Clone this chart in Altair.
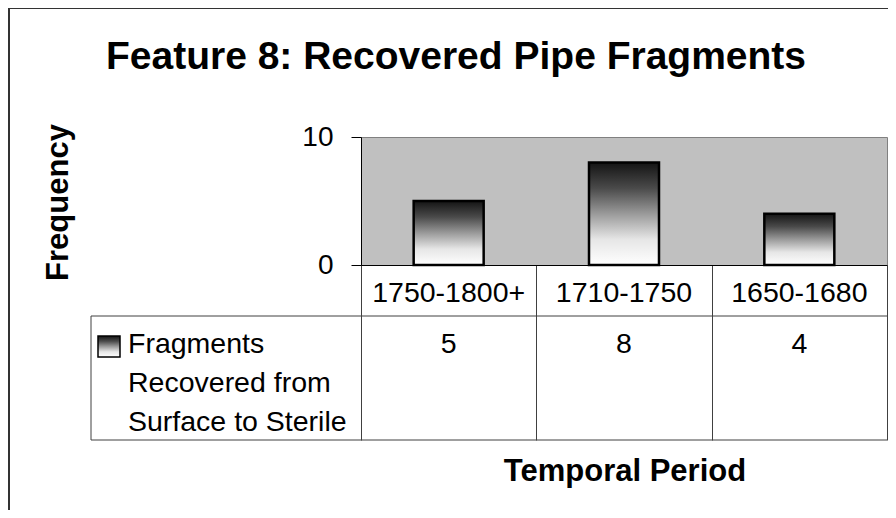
import altair as alt
import pandas as pd

# ---- data ----
periods = ["1750-1800+", "1710-1750", "1650-1680"]
counts = [5, 8, 4]
series_label = "Fragments\nRecovered from\nSurface to Sterile"
chart_title = "Feature 8: Recovered Pipe Fragments"
y_title = "Frequency"
x_title = "Temporal Period"
y_ticks = [0, 10]

df = pd.DataFrame({"period": periods, "count": counts})

FONT = "Liberation Sans"
# plot area in page coordinates
OX, OY = 361, 137
W, H = 526, 128
SVG_W, SVG_H = 880, 502


def px(x):
    return x - OX


def py(y):
    return y - OY


grad = {
    "gradient": "linear",
    "x1": 0, "y1": 0, "x2": 0, "y2": 1,
    "stops": [
        {"offset": 0.0, "color": "#141414"},
        {"offset": 0.25, "color": "#4a4a4a"},
        {"offset": 0.5, "color": "#9a9a9a"},
        {"offset": 0.75, "color": "#e6e6e6"},
        {"offset": 1.0, "color": "#ffffff"},
    ],
}

TABLE_BOTTOM = 440
ROW_LINE = 316
LEG_LEFT = 91
TFS = 28.5

xenc = alt.X(
    "period:N",
    sort=periods,
    scale=alt.Scale(paddingInner=0, paddingOuter=0),
    axis=alt.Axis(
        title=None, labels=False, domain=True, domainColor="#000000", domainWidth=1,
        ticks=True, tickBand="extent", tickSize=TABLE_BOTTOM - (OY + H),
        tickColor="#404040", tickWidth=1, grid=False,
    ),
)

bars = alt.Chart(df).mark_bar(size=70, color=grad, stroke="#000000", strokeWidth=2.5).encode(
    x=xenc,
    y=alt.Y(
        "count:Q",
        scale=alt.Scale(domain=[0, 10], nice=False),
        axis=alt.Axis(
            values=y_ticks, grid=False, domainColor="#000000", tickColor="#000000",
            tickSize=10, labelPadding=18, labelFont=FONT, labelFontSize=28,
            labelColor="#000000", title=y_title, titleFont=FONT, titleFontSize=31,
            titleFontWeight="bold", titleColor="#000000", titleAngle=270,
            titleX=px(58), titleY=py(202), titleAlign="center", titleBaseline="middle",
        ),
    ),
)

base = alt.Chart(df)

header = base.mark_text(font=FONT, fontSize=TFS, color="#000000", baseline="alphabetic").encode(
    x=alt.X("period:N", sort=periods),
    y=alt.value(py(302)),
    text="period:N",
)

values = base.mark_text(font=FONT, fontSize=TFS, color="#000000", baseline="alphabetic").encode(
    x=alt.X("period:N", sort=periods),
    y=alt.value(py(353)),
    text="count:Q",
)

legend_text = alt.Chart(pd.DataFrame({"label": [series_label]})).mark_text(
    font=FONT, fontSize=TFS, color="#000000", align="left", baseline="alphabetic",
    lineBreak="\n", lineHeight=39,
).encode(x=alt.value(px(128)), y=alt.value(py(353)), text="label:N")

legend_sym = alt.Chart(pd.DataFrame({"k": [1]})).mark_rect(
    color=grad, stroke="#000000", strokeWidth=1.5
).encode(
    x=alt.value(px(98)), x2=alt.value(px(120)), y=alt.value(py(336)), y2=alt.value(py(357))
)

line_style = dict(color="#404040", strokeWidth=1)
hline1 = alt.Chart(pd.DataFrame({"k": [1]})).mark_rule(**line_style).encode(
    x=alt.value(px(LEG_LEFT)), x2=alt.value(W), y=alt.value(py(ROW_LINE))
)
hline2 = alt.Chart(pd.DataFrame({"k": [1]})).mark_rule(**line_style).encode(
    x=alt.value(px(LEG_LEFT)), x2=alt.value(W), y=alt.value(py(TABLE_BOTTOM))
)
vline = alt.Chart(pd.DataFrame({"k": [1]})).mark_rule(**line_style).encode(
    x=alt.value(px(LEG_LEFT)), y=alt.value(py(ROW_LINE)), y2=alt.value(py(TABLE_BOTTOM))
)

frame_style = dict(color="#333333", strokeWidth=2)
frame_top = alt.Chart(pd.DataFrame({"k": [1]})).mark_rule(**frame_style).encode(
    x=alt.value(px(8)), x2=alt.value(px(896)), y=alt.value(py(8))
)
frame_left = alt.Chart(pd.DataFrame({"k": [1]})).mark_rule(**frame_style).encode(
    x=alt.value(px(9)), y=alt.value(py(7)), y2=alt.value(py(518))
)

title = alt.Chart(pd.DataFrame({"t": [chart_title]})).mark_text(
    font=FONT, fontSize=39, fontWeight="bold", color="#000000", align="center", baseline="alphabetic"
).encode(x=alt.value(px(456)), y=alt.value(py(69)), text="t:N")

xtitle = alt.Chart(pd.DataFrame({"t": [x_title]})).mark_text(
    font=FONT, fontSize=31, fontWeight="bold", color="#000000", align="center", baseline="alphabetic"
).encode(x=alt.value(px(625)), y=alt.value(py(481)), text="t:N")

chart = alt.layer(
    bars, header, values, legend_sym, legend_text, hline1, hline2, vline,
    frame_top, frame_left, title, xtitle,
).properties(
    width=W, height=H,
    padding={"left": OX - 8, "top": OY - 8, "right": SVG_W - (OX - 8) - W,
             "bottom": SVG_H - (OY - 8) - H},
    autosize=alt.AutoSizeParams(type="none"),
    background="#ffffff",
).configure_view(fill="#C0C0C0", stroke="#808080", strokeWidth=1)

chart.save("out.html", embed_options={"renderer": "svg", "actions": False})
